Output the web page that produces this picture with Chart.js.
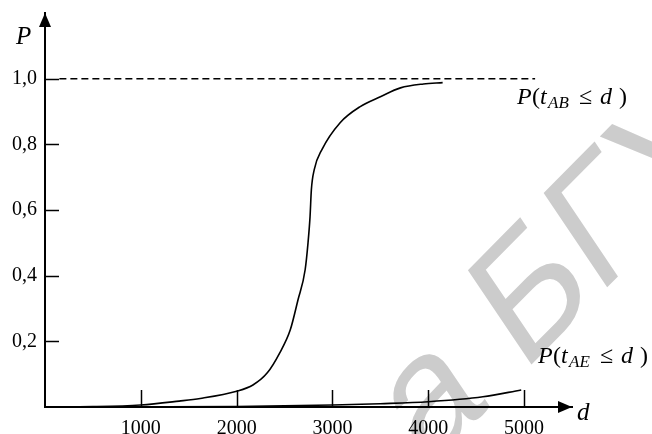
<!DOCTYPE html>
<html>
<head>
<meta charset="utf-8">
<script src="https://cdn.jsdelivr.net/npm/chart.js@4.4.1/dist/chart.umd.min.js"></script>
<style>
  body { margin: 0; background: #fff; }
  #wrap { width: 652px; height: 434px; }
</style>
</head>
<body>
<div id="wrap"><canvas id="chart" width="652" height="434"></canvas></div>
<script>
// values
const abD = [0, 500, 1000, 1400, 1620, 2000, 2170, 2320, 2450, 2560, 2640, 2715, 2745, 2766, 2780, 2810, 2890, 3080, 3290, 3500, 3710, 3950, 4150];
const abP = [0, 0.001, 0.006, 0.018, 0.026, 0.048, 0.067, 0.104, 0.165, 0.235, 0.326, 0.418, 0.5, 0.579, 0.662, 0.723, 0.784, 0.866, 0.915, 0.945, 0.972, 0.984, 0.988];
const aeD = [0, 1000, 2000, 3000, 3500, 4000, 4570, 4970];
const aeP = [0, 0.0005, 0.0015, 0.006, 0.01, 0.016, 0.031, 0.052];
const limitD = [150, 5115];
const limitP = [1, 1];
const xTicks = [1000, 2000, 3000, 4000, 5000];
const yTicks = [0.2, 0.4, 0.6, 0.8, 1.0];

const serif = '"Liberation Serif", "Times New Roman", serif';

function toPoints(xs, ys) {
  return xs.map((x, i) => ({ x: x, y: ys[i] }));
}

// подпись вида P(t_AB ≤ d)
function mathLabel(ctx, x0, y0, sub) {
  ctx.fillStyle = "#000";
  ctx.textBaseline = "alphabetic";
  ctx.textAlign = "left";
  ctx.font = "italic 24px " + serif;
  ctx.fillText("P", x0, y0);
  ctx.font = "24px " + serif;
  ctx.fillText("(", x0 + 15, y0);
  ctx.font = "italic 24px " + serif;
  ctx.fillText("t", x0 + 23, y0);
  ctx.font = "italic 17px " + serif;
  ctx.fillText(sub, x0 + 31, y0 + 4);
  ctx.font = "24px " + serif;
  ctx.fillText("≤", x0 + 62, y0);
  ctx.font = "italic 24px " + serif;
  ctx.fillText("d", x0 + 83, y0);
  ctx.font = "24px " + serif;
  ctx.fillText(")", x0 + 102, y0);
}

const decor = {
  id: "decor",
  beforeDraw(chart) {
    const ctx = chart.ctx;
    ctx.save();
    ctx.fillStyle = "#fff";
    ctx.fillRect(0, 0, chart.width, chart.height);
    // водяной знак
    ctx.translate(522, 374);
    ctx.transform(0.70, -0.71, 0.56, 0.83, 0, 0);
    ctx.font = "165px \"Liberation Sans\", Arial, sans-serif";
    ctx.fillStyle = "#cccccc";
    ctx.textBaseline = "alphabetic";
    const w = ctx.measureText("а ").width;
    ctx.fillText("а БГУ", -w, 0);
    ctx.restore();
  },
  afterDraw(chart) {
    const ctx = chart.ctx;
    const xs = chart.scales.x;
    const ys = chart.scales.y;
    const area = chart.chartArea;
    ctx.save();
    ctx.strokeStyle = "#000";
    ctx.lineWidth = 1.5;
    // засечки
    yTicks.forEach(v => {
      const y = Math.round(ys.getPixelForValue(v)) + 0.5;
      ctx.beginPath();
      ctx.moveTo(area.left, y);
      ctx.lineTo(area.left + 14, y);
      ctx.stroke();
    });
    xTicks.forEach(v => {
      const x = Math.round(xs.getPixelForValue(v)) + 0.5;
      ctx.beginPath();
      ctx.moveTo(x, area.bottom);
      ctx.lineTo(x, area.bottom - 17);
      ctx.stroke();
    });
    // стрелки
    ctx.fillStyle = "#000";
    ctx.beginPath();
    ctx.moveTo(area.left, area.top);
    ctx.lineTo(area.left - 6, area.top + 14);
    ctx.lineTo(area.left + 6, area.top + 14);
    ctx.closePath();
    ctx.fill();
    ctx.beginPath();
    ctx.moveTo(area.right, area.bottom);
    ctx.lineTo(area.right - 14, area.bottom - 6);
    ctx.lineTo(area.right - 14, area.bottom + 6);
    ctx.closePath();
    ctx.fill();
    // названия осей
    ctx.font = "italic 25px " + serif;
    ctx.textAlign = "left";
    ctx.textBaseline = "alphabetic";
    ctx.fillText("P", 16, 44);
    ctx.fillText("d", 577, 420);
    // подписи кривых
    mathLabel(ctx, 517, 104, "AB");
    mathLabel(ctx, 538, 363, "AE");
    ctx.restore();
  }
};

new Chart(document.getElementById("chart"), {
  type: "scatter",
  data: {
    datasets: [
      {
        data: toPoints(abD, abP),
        showLine: true,
        borderColor: "#000",
        borderWidth: 1.6,
        pointRadius: 0,
        cubicInterpolationMode: "monotone"
      },
      {
        data: toPoints(aeD, aeP),
        showLine: true,
        borderColor: "#000",
        borderWidth: 1.6,
        pointRadius: 0,
        cubicInterpolationMode: "monotone"
      },
      {
        data: toPoints(limitD, limitP),
        showLine: true,
        borderColor: "#000",
        borderWidth: 1.5,
        borderDash: [7, 4],
        pointRadius: 0
      }
    ]
  },
  options: {
    responsive: false,
    animation: false,
    layout: { padding: { top: 13, right: 80, left: 0, bottom: 0 } },
    plugins: { legend: { display: false }, tooltip: { enabled: false } },
    scales: {
      x: {
        type: "linear",
        min: 0,
        max: 5500,
        afterBuildTicks: s => { s.ticks = xTicks.map(v => ({ value: v })); },
        afterFit: s => { s.height = 27; s.paddingLeft = 0; s.paddingRight = 0; },
        grid: { display: false, drawTicks: false },
        border: { display: true, color: "#000", width: 2 },
        ticks: {
          autoSkip: false,
          maxRotation: 0,
          padding: 10,
          color: "#000",
          font: { family: serif, size: 20 },
          callback: v => String(v)
        }
      },
      y: {
        type: "linear",
        min: 0,
        max: 1.2,
        afterBuildTicks: s => { s.ticks = yTicks.map(v => ({ value: v })); },
        afterFit: s => { s.width = 45; s.paddingTop = 0; s.paddingBottom = 0; },
        grid: { display: false, drawTicks: false },
        border: { display: true, color: "#000", width: 2 },
        ticks: {
          padding: 8,
          color: "#000",
          font: { family: serif, size: 20 },
          callback: v => v.toFixed(1).replace(".", ",")
        }
      }
    }
  },
  plugins: [decor]
});
</script>
</body>
</html>
